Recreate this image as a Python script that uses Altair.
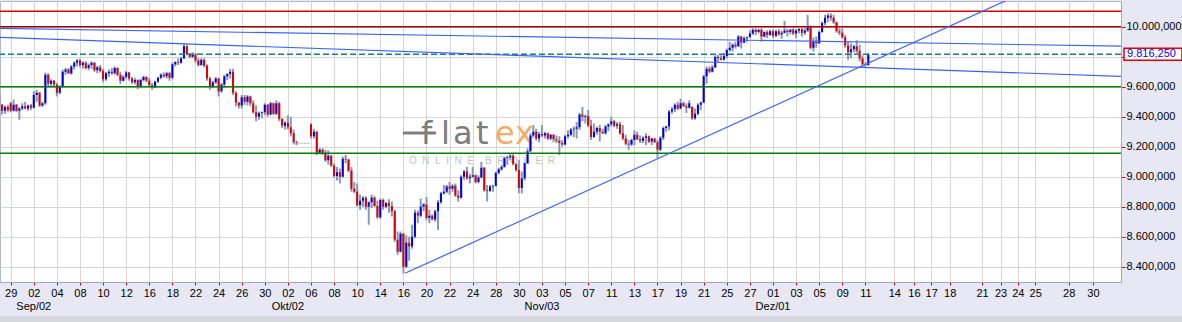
import altair as alt
import pandas as pd

# ---------------- data ----------------
first_day = -1          # trading-day index of the first bar (28 Aug)
bars_per_day = 4

opens = [
 9545,9480,9440,9465,  9490,9440,9480,9440,  9455,9470,9455,9475,  9460,9545,9560,9475,
 9490,9680,9620,9640,  9615,9560,9600,9700,  9715,9690,9735,9760,  9775,9745,9760,9725,
 9745,9760,9710,9730,  9705,9650,9690,9700,  9690,9725,9680,9640,  9665,9695,9655,9630,
 9645,9600,9645,9665,  9640,9610,9595,9635,  9660,9680,9670,9690,  9660,9750,9765,9760,
 9790,9870,9815,9800,  9815,9775,9745,9780,  9740,9655,9600,9630,  9655,9570,9615,9670,
 9685,9700,9560,9495,  9475,9530,9500,9535,  9490,9430,9400,9425,  9430,9480,9415,9490,
 9420,9490,9385,9340,  9360,9330,9290,9230,  9223,9223,9223,9223,  9350,9270,9300,9160,
 9180,9160,9110,9140,  9075,9005,9030,9000,  9120,9115,9040,8920,  8900,8810,8840,8860,
 8800,8830,8860,8805,  8730,8845,8800,8825,  8805,8770,8580,8500,  8620,8400,8560,8535,
 8600,8760,8740,8800,  8815,8725,8740,8715,  8770,8830,8890,8900,  8935,8920,8940,8875,
 8860,9000,9035,8990,  9000,9010,8965,8995,  9060,8910,8905,8935,  8940,9025,9050,9065,
 9125,9130,9140,9085,  9045,8925,8990,9090,  9170,9275,9300,9255,  9285,9275,9290,9255,
 9280,9250,9240,9225,  9215,9270,9280,9315,  9320,9330,9415,9400,  9405,9340,9265,9300,
 9325,9300,9290,9335,  9350,9370,9340,9350,  9290,9255,9220,9215,  9245,9280,9250,9240,
 9260,9270,9235,9255,  9230,9180,9260,9325,  9335,9435,9450,9480,  9455,9490,9470,9460,
 9465,9390,9420,9480,  9495,9670,9720,9700,  9730,9800,9790,9780,  9805,9845,9860,9880,
 9870,9935,9895,9925,  9930,9955,9980,9965,  9980,9935,9965,9945,  9970,9940,9970,9950,
 9960,9975,9965,9980,  9955,9975,9985,9960,  9975,9995,9860,9900,  9890,9965,10025,10060,
 10075,10060,10030,9970, 9960,9930,9875,9830, 9850,9870,9840,9790, 9750,9745]

highs = [
 9560,9485,9475,9480,  9500,9515,9485,9465,  9490,9500,9480,9485,  9570,9580,9565,9500,
 9695,9690,9650,9645,  9625,9610,9715,9725,  9725,9745,9770,9785,  9785,9770,9770,9755,
 9770,9765,9740,9745,  9720,9700,9715,9725,  9735,9730,9700,9680,  9705,9700,9665,9660,
 9650,9655,9675,9670,  9660,9625,9640,9665,  9690,9695,9700,9700,  9760,9770,9790,9800,
 9890,9880,9825,9830,  9825,9790,9790,9790,  9750,9665,9640,9665,  9660,9625,9680,9690,
 9720,9720,9570,9500,  9545,9545,9545,9540,  9510,9475,9435,9435,  9490,9485,9500,9495,
 9510,9500,9390,9370,  9410,9400,9315,9240,  9226,9226,9226,9226,  9356,9320,9305,9190,
 9190,9180,9175,9145,  9090,9065,9055,9135,  9145,9120,9065,8965,  8955,8880,8870,8870,
 8835,8880,8870,8840,  8855,8855,8830,8850,  8835,8780,8635,8635,  8625,8610,8600,8680,
 8780,8775,8855,8825,  8865,8780,8750,8780,  8845,8900,8945,8945,  8965,8950,8955,8910,
 9010,9045,9065,9020,  9065,9015,9010,9100,  9065,8945,8945,8945,  9035,9060,9080,9135,
 9140,9155,9150,9090,  9110,9035,9100,9190,  9290,9345,9320,9300,  9345,9300,9295,9285,
 9285,9275,9270,9245,  9280,9310,9325,9335,  9365,9425,9465,9415,  9445,9380,9355,9335,
 9345,9320,9345,9355,  9400,9380,9365,9365,  9345,9280,9245,9255,  9310,9300,9275,9270,
 9290,9275,9260,9260,  9245,9270,9335,9340,  9445,9465,9490,9500,  9520,9500,9490,9510,
 9470,9455,9490,9500,  9680,9735,9735,9745,  9810,9812,9810,9825,  9855,9900,9890,9900,
 9945,9940,9935,9935,  9975,9990,9990,9985,  9990,9970,9978,9980,  9980,9980,9985,9975,
 10040,9985,9985,9990, 9985,9990,9990,9990,  10080,10010,9930,9935, 9975,10035,10080,10090,
 10090,10080,10035,9990, 9990,9945,9900,9890, 9880,9910,9880,9810, 9765,9825]

lows = [
 9470,9415,9420,9430,  9430,9435,9430,9380,  9445,9450,9440,9445,  9455,9500,9465,9465,
 9480,9600,9600,9600,  9535,9550,9595,9680,  9685,9680,9715,9735,  9730,9720,9715,9710,
 9720,9700,9690,9695,  9630,9640,9665,9680,  9680,9670,9620,9635,  9650,9640,9620,9615,
 9585,9595,9635,9630,  9600,9580,9590,9625,  9650,9660,9655,9640,  9650,9735,9745,9755,
 9785,9810,9790,9790,  9760,9735,9740,9730,  9640,9580,9590,9620,  9535,9560,9590,9645,
 9655,9545,9470,9455,  9455,9480,9475,9470,  9420,9370,9380,9390,  9410,9400,9410,9410,
 9410,9370,9325,9315,  9315,9270,9215,9210,  9221,9221,9221,9221,  9255,9255,9145,9150,
 9145,9100,9080,9065,  8995,8975,8955,8995,  9090,9030,8900,8890,  8800,8780,8800,8780,
 8680,8790,8800,8720,  8720,8780,8790,8760,  8735,8565,8480,8495,  8355,8390,8440,8520,
 8590,8690,8730,8770,  8710,8690,8710,8700,  8645,8820,8880,8890,  8880,8900,8865,8835,
 8855,8980,8980,8955,  8995,8955,8955,8990,  8900,8835,8900,8900,  8935,9015,9040,9060,
 9080,9110,9075,9035,  8890,8890,8975,9085,  9165,9260,9240,9230,  9265,9255,9245,9245,
 9230,9225,9145,9200,  9210,9255,9270,9265,  9255,9310,9370,9355,  9330,9245,9260,9280,
 9235,9285,9280,9305,  9335,9330,9320,9280,  9245,9210,9180,9205,  9210,9245,9225,9225,
 9210,9225,9210,9225,  9125,9170,9245,9300,  9310,9420,9430,9445,  9450,9465,9425,9455,
 9380,9380,9410,9445,  9490,9620,9690,9695,  9725,9765,9775,9775,  9790,9835,9835,9855,
 9865,9855,9890,9900,  9930,9945,9945,9955,  9900,9930,9925,9940,  9925,9930,9940,9920,
 9955,9935,9950,9945,  9925,9955,9935,9945,  9965,9850,9835,9860,  9885,9960,10010,10030,
 10040,10020,9960,9945, 9920,9860,9780,9790, 9830,9825,9770,9735, 9730,9740]

closes = [
 9480,9440,9465,9445,  9440,9480,9440,9455,  9470,9455,9475,9460,  9545,9560,9475,9490,
 9680,9620,9640,9615,  9560,9600,9700,9715,  9690,9735,9760,9775,  9745,9760,9725,9745,
 9760,9710,9730,9705,  9650,9690,9700,9690,  9725,9680,9640,9665,  9695,9655,9630,9645,
 9600,9645,9665,9640,  9610,9595,9635,9660,  9680,9670,9690,9660,  9750,9765,9760,9790,
 9870,9815,9800,9815,  9775,9745,9780,9740,  9655,9600,9630,9655,  9570,9615,9670,9685,
 9700,9560,9495,9475,  9530,9500,9535,9490,  9430,9400,9425,9430,  9480,9415,9490,9420,
 9490,9385,9340,9360,  9330,9290,9230,9225,  9223,9223,9223,9223,  9270,9300,9160,9180,
 9160,9110,9140,9075,  9005,9030,9000,9120,  9115,9040,8920,8900,  8810,8840,8860,8800,
 8830,8860,8805,8730,  8845,8800,8825,8805,  8770,8580,8500,8620,  8400,8560,8535,8600,
 8760,8740,8800,8815,  8725,8740,8715,8770,  8830,8890,8900,8935,  8920,8940,8875,8860,
 9000,9035,8990,9000,  9010,8965,8995,9060,  8910,8905,8935,8940,  9025,9050,9065,9125,
 9130,9140,9085,9045,  8925,8990,9090,9170,  9275,9300,9255,9285,  9275,9290,9255,9280,
 9250,9240,9225,9215,  9270,9280,9315,9320,  9330,9415,9400,9405,  9340,9265,9300,9325,
 9300,9290,9335,9350,  9370,9340,9350,9290,  9255,9220,9215,9245,  9280,9250,9240,9260,
 9270,9235,9255,9230,  9180,9260,9325,9335,  9435,9450,9480,9455,  9490,9470,9460,9490,
 9390,9420,9480,9495,  9670,9720,9700,9730,  9800,9790,9780,9805,  9845,9860,9880,9870,
 9935,9895,9925,9930,  9955,9980,9965,9980,  9935,9965,9945,9970,  9940,9970,9950,9960,
 9975,9965,9980,9955,  9975,9985,9960,9975,  9995,9860,9900,9890,  9965,10025,10060,10075,
 10060,10030,9970,9960, 9930,9875,9830,9850, 9870,9840,9790,9750, 9745,9816.25]

# x-axis ticks (trading-day index) and their texts
tick_pos = [0, 2, 4, 6, 8, 10, 12, 14, 16, 18, 20, 22, 24, 26, 28, 30, 32, 34, 36, 38,
            40, 42, 44, 46, 48, 50, 52, 54, 56, 58, 60, 62, 64, 66, 68, 70, 72, 74,
            76.5, 78.2, 79.7, 81.3, 84.1, 85.7, 87.2, 88.7, 91.6, 93.7]
tick_lab = ["29", "02", "04", "08", "10", "12", "16", "18", "22", "24", "26", "30",
            "02", "06", "08", "10", "14", "16", "20", "22", "24", "28", "30",
            "03", "05", "07", "11", "13", "17", "19", "21", "25", "27",
            "01", "03", "05", "09", "11",
            "14", "16", "17", "18", "21", "23", "24", "25", "28", "30"]
month_lab = ["Sep/02", "Okt/02", "Nov/03", "Dez/01"]
month_pos = [2, 24, 46, 66]

y_ticks = [8400, 8600, 8800, 9000, 9200, 9400, 9600, 9800, 10000]

level_val = [10103, 10000, 9600, 9156]
level_col = ["#e00000", "#a00000", "#008000", "#008000"]
last_price = 9816.25
last_label = "9.816,250"

trend_x1 = [-0.93, -0.93, 34.14]
trend_y1 = [9989, 9929, 8356]
trend_x2 = [96.13, 96.13, 96.13]
trend_y2 = [9871, 9669, 10523]

# ---------------- tables ----------------
xs = []
d, s = first_day, 0
for _ in range(len(opens)):
    xs.append(d + s / bars_per_day)
    s += 1
    if s == bars_per_day:
        s, d = 0, d + 1

bars = pd.DataFrame({"x": xs, "o": opens, "h": highs, "l": lows, "c": closes})
bars["dir"] = ["up" if c > o else ("down" if c < o else "flat")
               for o, c in zip(bars.o, bars.c)]

W, H = 1121, 281
XD = [-0.926, 96.13]
YD = [8298, 10172]
xs_ = alt.Scale(domain=XD, nice=False, zero=False)
ys_ = alt.Scale(domain=YD, nice=False, zero=False)
FONT = "Liberation Sans"

x_label_expr = "[" + ",".join("'%s'" % t for t in tick_lab) + "][indexof([" + \
    ",".join(str(p) for p in tick_pos) + "], datum.value)]"
y_label_expr = ("floor(datum.value/1000) + '.' + (datum.value % 1000 == 0 ? '000' : "
                "toString(datum.value % 1000)) + ',000'")

x_axis = alt.Axis(values=tick_pos, labelExpr=x_label_expr, grid=True, gridColor="#d6d6d6",
                  tickColor="#e00000", tickSize=3, domainColor="#a4a8c8", labelFont=FONT,
                  labelFontSize=11, labelColor="#000000", labelPadding=2, title=None,
                  labelOverlap=False, labelFlush=False)
y_axis = alt.Axis(orient="right", values=y_ticks, labelExpr=y_label_expr, grid=True,
                  gridColor="#d6d6d6", tickColor="#e00000", tickSize=4, domainColor="#a4a8c8",
                  labelFont=FONT, labelFontSize=11, labelColor="#000000", labelPadding=1,
                  title=None, labelOverlap=False, labelFlush=False)


def X(field):
    return alt.X(field, scale=xs_, axis=x_axis)


def Y(field):
    return alt.Y(field, scale=ys_, axis=y_axis)


wick = alt.Chart(bars).mark_rule(color="#8a98b4", strokeWidth=2, clip=True).encode(
    x=X("x:Q"), y=Y("l:Q"), y2="h:Q")
body = alt.Chart(bars).mark_rule(strokeWidth=2, clip=True).encode(
    x=X("x:Q"), y=Y("o:Q"), y2="c:Q",
    color=alt.Color("dir:N", scale=alt.Scale(domain=["up", "down", "flat"],
                    range=["#0000dd", "#dd0000", "#8a98b4"]), legend=None),
)

levels = alt.Chart(pd.DataFrame({"v": level_val, "col": level_col})).mark_rule(
    strokeWidth=1.5).encode(
    y=Y("v:Q"), color=alt.Color("col:N", scale=None, legend=None))
last_line = alt.Chart(pd.DataFrame({"v": [last_price]})).mark_rule(
    color="#13808c", strokeWidth=1.5, strokeDash=[6, 3]).encode(y=Y("v:Q"))

trends = alt.Chart(pd.DataFrame({"x1": trend_x1, "y1": trend_y1, "x2": trend_x2,
                                 "y2": trend_y2})).mark_rule(
    color="#3a62ff", strokeWidth=1.2, clip=True).encode(
    x=X("x1:Q"), x2="x2:Q", y=Y("y1:Q"), y2="y2:Q")

px_per_pt = H / (YD[1] - YD[0])
half_box = 6 / px_per_pt
box = alt.Chart(pd.DataFrame({"a": [last_price + half_box], "b": [last_price - half_box]})
                ).mark_rect(fill="white", stroke="#e00000", strokeWidth=1.5).encode(
    x=alt.value(W + 3), x2=alt.value(W + 61), y=Y("a:Q"), y2="b:Q")
box_text = alt.Chart(pd.DataFrame({"v": [last_price], "t": [last_label]})).mark_text(
    align="left", baseline="middle", font=FONT, fontSize=11, color="#0000ff").encode(
    x=alt.value(W + 6), y=Y("v:Q"), text="t:N")

months = alt.Chart(pd.DataFrame({"p": month_pos, "t": month_lab})).mark_text(
    baseline="middle", font=FONT, fontSize=11, color="#000000").encode(
    x=X("p:Q"), y=alt.value(306), text="t:N")

# flatex watermark
GRAY = "#7d7d7d"
ORANGE = "#f6ab69"
wm = [alt.Chart(pd.DataFrame({"a": [0]})).mark_rule(color=GRAY, strokeWidth=3).encode(
    x=alt.value(403), x2=alt.value(436), y=alt.value(132))]
for ch, xp, col in [("f", 421, GRAY), ("l", 441, GRAY), ("a", 453, GRAY),
                    ("t", 476, GRAY), ("e", 495, ORANGE), ("x", 515, ORANGE)]:
    wm.append(alt.Chart(pd.DataFrame({"t": [ch]})).mark_text(
        align="left", baseline="alphabetic", font="DejaVu Sans", fontSize=32,
        color=col).encode(x=alt.value(xp), y=alt.value(143), text="t:N"))
spaced = "\u00a0\u00a0".join("ONLINE") + "\u00a0\u00a0\u00a0\u00a0" + "\u00a0\u00a0".join("BROKER")
wm.append(alt.Chart(pd.DataFrame({"t": [spaced]})).mark_text(
    align="center", baseline="middle", font=FONT, fontSize=10, color="#c4c4c4").encode(
    x=alt.value(482), y=alt.value(160), text="t:N"))

strip = alt.Chart(pd.DataFrame({"a": [0]})).mark_rect(color="#d6d6de").encode(
    x=alt.value(0), x2=alt.value(1182), y=alt.value(315), y2=alt.value(322))

chart = alt.layer(
    wick, *wm, body, levels, last_line, trends, box, box_text, months, strip
).properties(
    width=W, height=H, autosize="none",
    padding={"left": 0, "top": 1, "right": 61, "bottom": 40},
    background="#e8e8f4",
).configure_view(fill="white", stroke="#b4b8cc", strokeWidth=1)

chart.save("out.html", embed_options={"renderer": "svg", "actions": False})
